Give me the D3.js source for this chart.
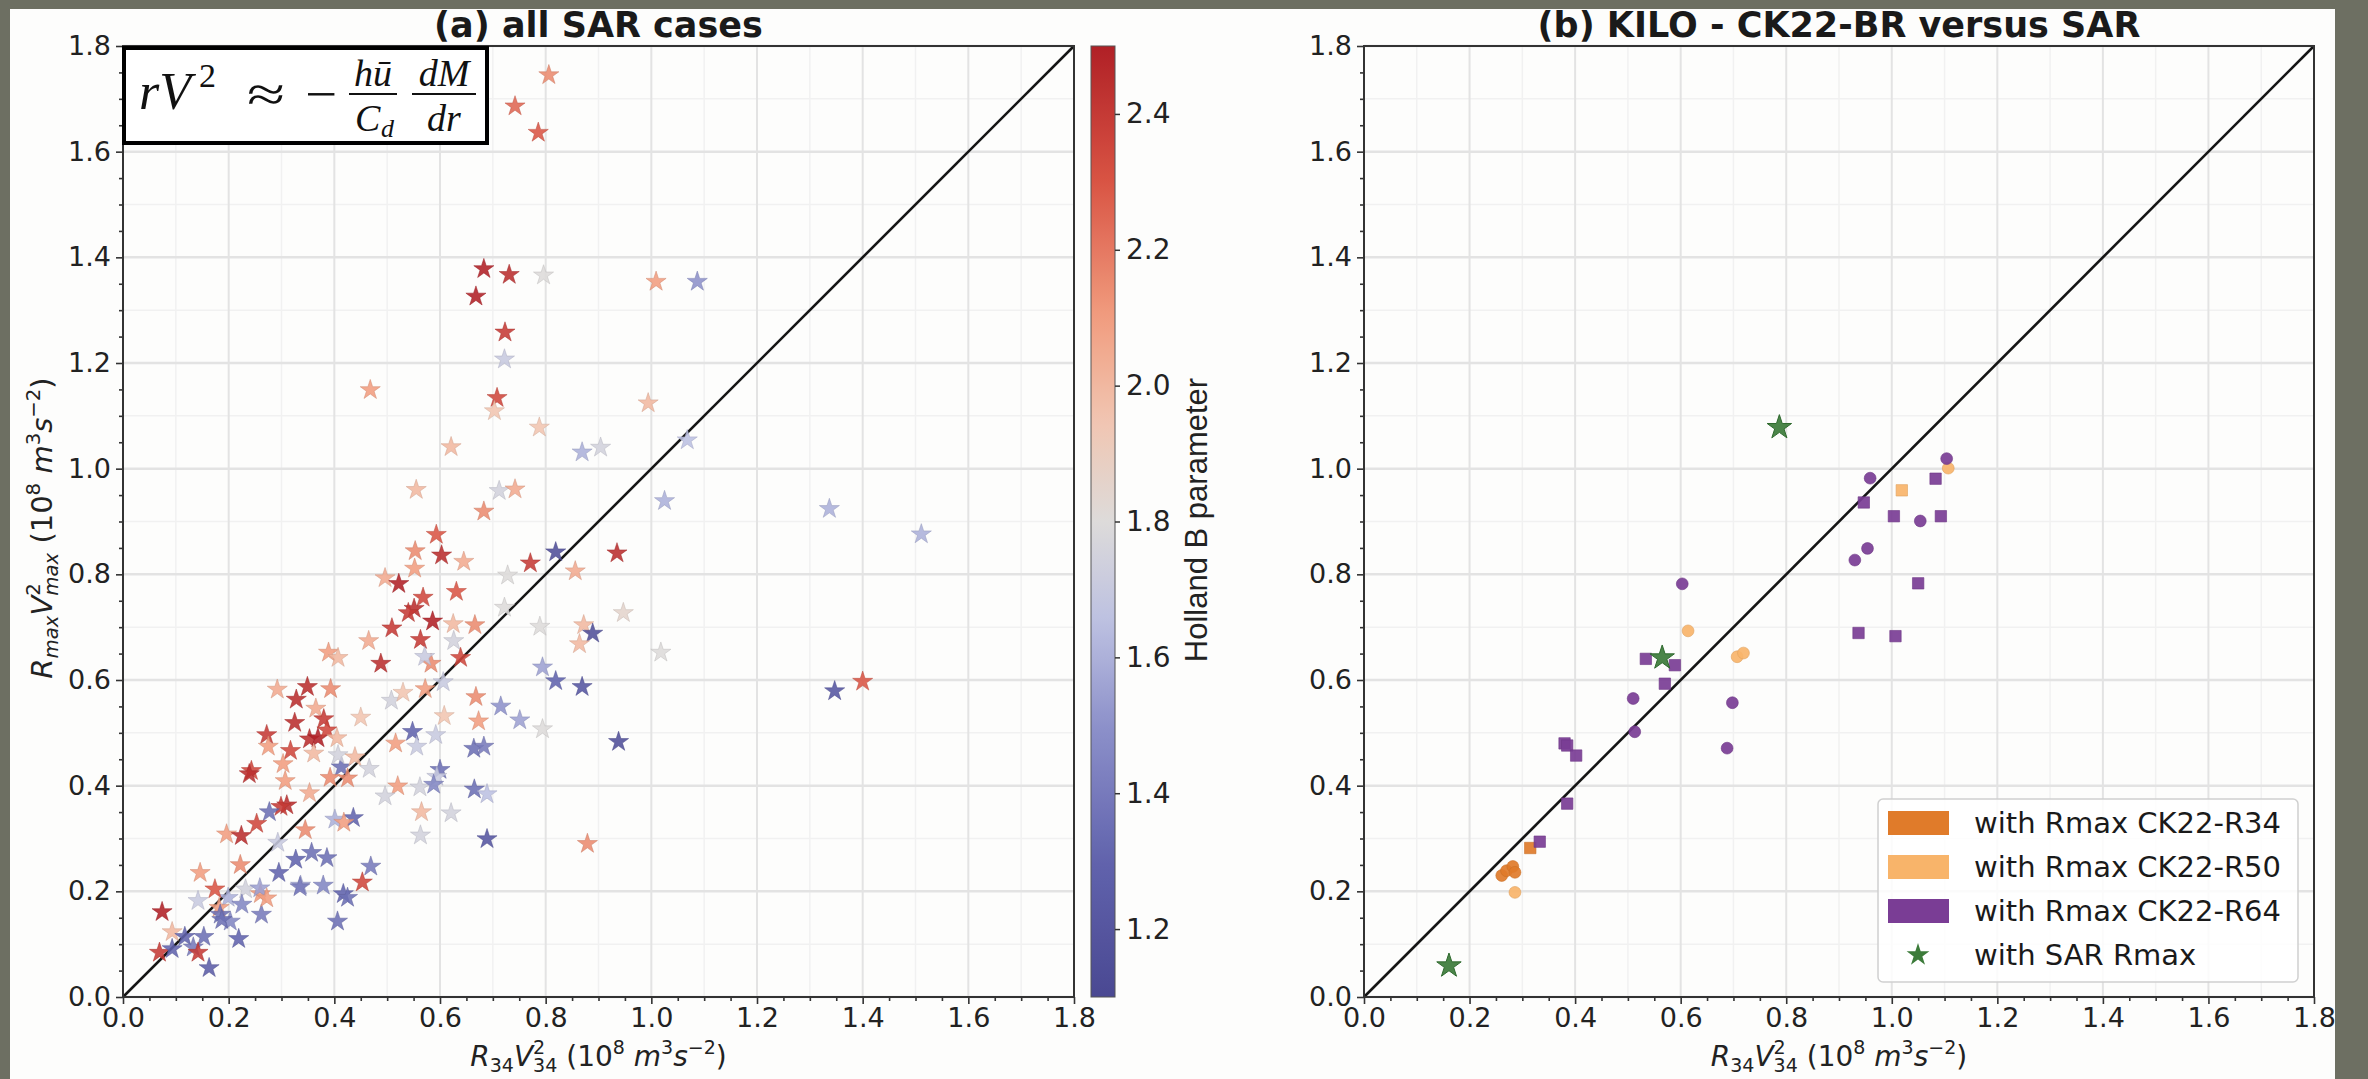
<!DOCTYPE html>
<html><head><meta charset="utf-8">
<script src="https://cdn.jsdelivr.net/npm/d3@7"></script>
<style>html,body{margin:0;padding:0;background:#6d6f62;} svg{display:block} text{white-space:pre}</style>
</head><body>
<svg id="chart" width="2368" height="1079"></svg>
<script>
// ---------- DATA ----------
const axisTicks = [0, 0.2, 0.4, 0.6, 0.8, 1.0, 1.2, 1.4, 1.6, 1.8];
const cbarTicks = [1.2, 1.4, 1.6, 1.8, 2.0, 2.2, 2.4];
const titleA = "(a) all SAR cases";
const titleB = "(b) KILO - CK22-BR versus SAR";
const cbarLabel = "Holland B parameter";
const legendLabels = ["with Rmax CK22-R34", "with Rmax CK22-R50", "with Rmax CK22-R64", "with SAR Rmax"];

// panel (a): all SAR cases  (x = R34 V34^2, y = Rmax Vmax^2, colour = Holland B)
const sarR34V34 = [0.806,0.742,0.786,0.683,0.731,0.796,0.668,1.009,1.087,0.723,0.722,0.468,0.708,0.703,0.994,0.788,0.621,0.869,0.904,1.068,0.555,0.712,0.742,0.683,1.025,1.337,1.511,0.593,
0.553,0.603,0.645,0.819,0.935,0.771,0.856,0.728,0.496,0.522,0.552,0.631,0.568,0.551,0.540,0.722,0.947,0.509,0.586,0.625,0.626,0.666,0.789,0.872,0.889,0.864,0.563,0.465,1.018,0.389,0.407,0.639,0.583,0.571,0.488,0.794,0.819,0.869,1.347,1.400,0.606,0.572,0.349,0.393,0.292,0.328,0.365,0.668,0.508,0.530,0.715,0.751,0.673,0.608,0.794,0.548,0.592,0.450,0.325,0.380,0.272,0.275,0.353,0.369,0.386,0.405,0.516,0.556,0.664,0.683,0.938,0.317,0.361,0.413,0.407,0.439,0.243,0.239,0.303,0.466,0.392,0.425,0.600,0.594,0.520,0.562,0.588,0.665,0.689,0.496,0.307,0.353,0.310,0.299,0.277,0.253,0.196,0.224,0.293,0.345,0.401,0.436,0.418,0.565,0.621,0.563,0.689,0.879,0.327,0.357,0.386,0.295,0.469,0.453,0.222,0.146,0.336,0.379,0.417,0.425,0.406,0.260,0.232,0.199,0.225,0.182,0.174,0.219,0.262,0.142,0.184,0.203,0.074,0.093,0.117,0.153,0.133,0.142,0.069,0.093,0.163,0.259,0.272,0.335,0.187];
const sarRmaxVmax = [1.745,1.686,1.636,1.378,1.367,1.366,1.326,1.354,1.354,1.258,1.207,1.149,1.134,1.109,1.124,1.078,1.041,1.031,1.040,1.054,0.960,0.958,0.961,0.919,0.939,0.924,0.876,0.875,
0.844,0.836,0.824,0.842,0.840,0.821,0.806,0.798,0.793,0.782,0.811,0.767,0.756,0.735,0.727,0.737,0.727,0.698,0.711,0.706,0.674,0.704,0.701,0.704,0.688,0.668,0.676,0.674,0.652,0.652,0.642,0.642,0.631,0.644,0.631,0.624,0.598,0.587,0.579,0.597,0.596,0.583,0.587,0.583,0.582,0.563,0.546,0.568,0.561,0.576,0.550,0.524,0.522,0.532,0.507,0.502,0.496,0.529,0.519,0.526,0.496,0.474,0.488,0.490,0.505,0.490,0.480,0.474,0.470,0.474,0.483,0.466,0.461,0.435,0.458,0.454,0.428,0.422,0.441,0.432,0.415,0.414,0.430,0.417,0.399,0.397,0.402,0.393,0.384,0.380,0.409,0.386,0.363,0.360,0.350,0.328,0.308,0.305,0.292,0.316,0.336,0.339,0.330,0.350,0.348,0.306,0.299,0.290,0.260,0.273,0.263,0.235,0.247,0.217,0.250,0.235,0.211,0.211,0.195,0.188,0.143,0.195,0.204,0.188,0.175,0.169,0.204,0.110,0.156,0.182,0.156,0.143,0.161,0.123,0.114,0.114,0.094,0.084,0.084,0.091,0.055,0.206,0.187,0.208,0.146];
const sarHollandB = [2.15,2.25,2.3,2.5,2.45,1.8,2.5,2.1,1.5,2.4,1.7,2.1,2.35,1.95,2.0,1.95,2.0,1.6,1.75,1.65,2.0,1.75,2.05,2.15,1.6,1.6,1.6,2.3,
2.15,2.45,2.05,1.15,2.45,2.4,2.05,1.8,2.05,2.5,2.1,2.3,2.35,2.45,2.4,1.8,1.85,2.4,2.5,2.0,1.75,2.15,1.8,2.0,1.15,2.0,2.4,2.05,1.8,2.1,2.0,2.35,2.15,1.7,2.45,1.55,1.3,1.2,1.2,2.3,1.7,2.1,2.45,2.15,2.05,2.45,2.05,2.15,1.75,1.95,1.5,1.55,2.1,1.95,1.8,1.3,1.7,1.95,2.45,2.4,2.4,2.1,2.45,2.5,2.35,2.0,2.1,1.7,1.35,1.4,1.15,2.35,2.0,1.35,1.75,2.0,2.35,2.45,2.1,1.75,2.15,2.15,1.35,1.7,2.1,1.75,1.45,1.35,1.65,1.75,2.1,2.05,2.45,2.4,1.35,2.35,2.1,2.45,1.7,2.15,1.6,1.3,2.1,2.0,1.75,1.75,1.2,2.15,1.3,1.35,1.35,1.3,1.4,2.35,2.15,2.1,1.55,1.45,1.3,1.35,1.35,2.1,1.75,1.6,1.45,2.1,2.3,1.3,1.4,1.7,1.35,1.45,2.5,2.0,1.3,1.35,1.4,2.4,2.4,1.3,1.25,1.55,2.1,1.4,1.35];

// panel (b): KILO
const ck34X = [0.315,0.261,0.270,0.282,0.286];
const ck34Y = [0.282,0.230,0.239,0.247,0.236];
const ck34Shape = ["square","circle","circle","circle","circle"];
const ck50X = [0.286,0.614,0.707,0.719,1.019,1.107];
const ck50Y = [0.198,0.693,0.644,0.651,0.959,1.001];
const ck50Shape = ["circle","circle","circle","circle","square","circle"];
const ck64X = [0.603,0.534,0.589,0.570,0.510,0.698,0.513,0.688,0.380,0.385,0.402,0.385,0.333,1.104,0.959,1.083,0.947,1.004,1.054,1.093,0.930,0.954,1.050,0.937,1.007];
const ck64Y = [0.782,0.640,0.628,0.593,0.565,0.557,0.502,0.471,0.480,0.476,0.457,0.366,0.294,1.019,0.982,0.981,0.936,0.910,0.901,0.910,0.827,0.849,0.783,0.689,0.683];
const ck64Shape = ["circle","square","square","square","circle","circle","circle","circle","square","square","square","square","square","circle","circle","square","square","square","circle","square","circle","circle","square","square","square"];
const sarRmaxX = [0.787,0.565,0.161];
const sarRmaxY = [1.078,0.642,0.059];

// ---------- STYLE ----------
const C34 = "#e07b2a", C50 = "#f8b46a", C64 = "#7a3d95", CSAR = "#3c7b3a";
const FONT = "DejaVu Sans";
const svg = d3.select("#chart");
svg.append("rect").attr("width", 2368).attr("height", 1079).attr("fill", "#6d6f62");
svg.append("rect").attr("x", 10).attr("y", 9).attr("width", 2325).attr("height", 1075).attr("fill", "#fdfdfc");

const y = d3.scaleLinear().domain([0, 1.8]).range([997, 46]);
const xA = d3.scaleLinear().domain([0, 1.8]).range([123, 1074]);
const xB = d3.scaleLinear().domain([0, 1.8]).range([1364, 2314]);
const minorTicks = d3.range(0, 1.8001, 0.05).map(v => +v.toFixed(2)).filter(v => Math.abs(v*5 - Math.round(v*5)) > 1e-6);
const gridMinor = d3.range(0.1, 1.8, 0.2).map(v => +v.toFixed(2));

const cmap = d3.scaleLinear()
  .domain([1.1, 1.3, 1.5, 1.65, 1.8, 1.95, 2.1, 2.3, 2.5])
  .range(["#4a4892", "#6163ad", "#8d91ca", "#bcc0e1", "#dddbda", "#f1c5b1", "#f19d7f", "#d95444", "#b02026"])
  .clamp(true);

function drawPanel(x, title) {
  const g = svg.append("g");
  g.selectAll(".gmx").data(gridMinor).join("line").attr("x1", d => x(d)).attr("x2", d => x(d)).attr("y1", y(0)).attr("y2", y(1.8)).attr("stroke", "#f1f1f1").attr("stroke-width", 1.5);
  g.selectAll(".gmy").data(gridMinor).join("line").attr("y1", d => y(d)).attr("y2", d => y(d)).attr("x1", x(0)).attr("x2", x(1.8)).attr("stroke", "#f1f1f1").attr("stroke-width", 1.5);
  g.selectAll(".gx").data(axisTicks).join("line").attr("x1", d => x(d)).attr("x2", d => x(d)).attr("y1", y(0)).attr("y2", y(1.8)).attr("stroke", "#e3e3e3").attr("stroke-width", 2);
  g.selectAll(".gy").data(axisTicks).join("line").attr("y1", d => y(d)).attr("y2", d => y(d)).attr("x1", x(0)).attr("x2", x(1.8)).attr("stroke", "#e3e3e3").attr("stroke-width", 2.5);
  g.append("line").attr("x1", x(0)).attr("y1", y(0)).attr("x2", x(1.8)).attr("y2", y(1.8)).attr("stroke", "#151515").attr("stroke-width", 2.6);
  svg.append("text").attr("x", (x(0) + x(1.8)) / 2).attr("y", 37).attr("text-anchor", "middle")
    .attr("font-family", FONT).attr("font-weight", "bold").attr("font-size", 35).attr("fill", "#1a1a1a").text(title);
  return g;
}

function drawAxes(x) {
  const ax = svg.append("g");
  ax.append("g").attr("transform", `translate(0,${y(0)})`)
    .call(d3.axisBottom(x).tickValues(axisTicks).tickSize(7).tickPadding(4).tickFormat(d3.format(".1f")));
  ax.append("g").attr("transform", `translate(0,${y(0)})`)
    .call(d3.axisBottom(x).tickValues(minorTicks).tickSize(4).tickFormat(""));
  ax.append("g").attr("transform", `translate(${x(0)},0)`)
    .call(d3.axisLeft(y).tickValues(axisTicks).tickSize(7).tickPadding(5).tickFormat(d3.format(".1f")));
  ax.append("g").attr("transform", `translate(${x(0)},0)`)
    .call(d3.axisLeft(y).tickValues(minorTicks).tickSize(4).tickFormat(""));
  ax.selectAll(".domain").remove();
  ax.selectAll(".tick line").attr("stroke", "#333").attr("stroke-width", 1.6);
  ax.selectAll(".tick text").attr("font-family", FONT).attr("font-size", 27).attr("fill", "#222");
  ax.append("rect").attr("x", x(0)).attr("y", y(1.8)).attr("width", x(1.8) - x(0)).attr("height", y(0) - y(1.8))
    .attr("fill", "none").attr("stroke", "#333").attr("stroke-width", 2);
}

function mathText(x0, y0, parts, size, rotate) {
  const t = svg.append("text").attr("font-family", FONT).attr("font-size", size).attr("fill", "#222")
    .attr("text-anchor", "middle")
    .attr("transform", `translate(${x0},${y0})` + (rotate ? " rotate(-90)" : ""));
  let cur = 0, lastW = 0;
  parts.forEach(p => {
    const small = p.pos !== "base";
    const fs = small ? size * 0.68 : size;
    const target = p.pos === "sup" ? -0.42 * size : (p.pos === "sub" || p.pos === "subStack") ? 0.2 * size : 0;
    const ts = t.append("tspan").text(p.t).attr("font-size", fs).attr("font-style", p.it ? "italic" : "normal").attr("dy", target - cur);
    if (p.pos === "subStack") ts.attr("dx", -lastW);
    cur = target;
    lastW = ts.node().getComputedTextLength();
  });
}
const unitParts = [
  { t: " (10", pos: "base" }, { t: "8", pos: "sup" }, { t: " ", pos: "base" }, { t: "m", pos: "base", it: true },
  { t: "3", pos: "sup" }, { t: "s", pos: "base", it: true }, { t: "−2", pos: "sup" }, { t: ")", pos: "base" }];
const xLabelParts = [{ t: "R", pos: "base", it: true }, { t: "34", pos: "sub" }, { t: "V", pos: "base", it: true },
  { t: "2", pos: "sup" }, { t: "34", pos: "subStack" }].concat(unitParts);
const yLabelParts = [{ t: "R", pos: "base", it: true }, { t: "max", pos: "sub", it: true }, { t: "V", pos: "base", it: true },
  { t: "2", pos: "sup" }, { t: "max", pos: "subStack", it: true }].concat(unitParts);

// ---------- PANEL A ----------
const gA = drawPanel(xA, titleA);
const starA = d3.symbol().type(d3.symbolStar).size(125);
const idxA = d3.range(sarR34V34.length);
gA.selectAll(".star").data(idxA).join("path")
  .attr("d", starA)
  .attr("transform", i => `translate(${xA(sarR34V34[i])},${y(sarRmaxVmax[i])})`)
  .attr("fill", i => cmap(sarHollandB[i]))
  .attr("fill-opacity", 0.88)
  .attr("stroke", i => d3.color(cmap(sarHollandB[i])).darker(0.4))
  .attr("stroke-opacity", 0.5)
  .attr("stroke-width", 1);
drawAxes(xA);
mathText(xA(0.9), 1066, xLabelParts, 28, false);
mathText(52, 528, yLabelParts, 29, true);

// equation box
svg.append("rect").attr("x", 124).attr("y", 48).attr("width", 363).attr("height", 95)
  .attr("fill", "#fff").attr("stroke", "#000").attr("stroke-width", 4);
const eqF = "Liberation Serif";
const eq = svg.append("g").attr("font-family", eqF).attr("fill", "#111");
eq.append("text").attr("x", 139).attr("y", 109).attr("font-size", 52).attr("font-style", "italic").text("rV");
eq.append("text").attr("x", 199).attr("y", 87).attr("font-size", 34).text("2");
eq.append("text").attr("x", 247).attr("y", 111).attr("font-size", 50).attr("textLength", 38).attr("lengthAdjust", "spacingAndGlyphs").text("≈");
eq.append("text").attr("x", 305).attr("y", 111).attr("font-size", 50).attr("textLength", 32).attr("lengthAdjust", "spacingAndGlyphs").text("−");
eq.append("text").attr("x", 373).attr("y", 86).attr("font-size", 38).attr("font-style", "italic").attr("text-anchor", "middle").text("hū");
eq.append("line").attr("x1", 349).attr("x2", 397).attr("y1", 94).attr("y2", 94).attr("stroke", "#111").attr("stroke-width", 2);
eq.append("text").attr("x", 355).attr("y", 131).attr("font-size", 38).attr("font-style", "italic").text("C");
eq.append("text").attr("x", 381).attr("y", 137).attr("font-size", 26).attr("font-style", "italic").text("d");
eq.append("text").attr("x", 444).attr("y", 86).attr("font-size", 38).attr("font-style", "italic").attr("text-anchor", "middle").text("dM");
eq.append("line").attr("x1", 412).attr("x2", 476).attr("y1", 94).attr("y2", 94).attr("stroke", "#111").attr("stroke-width", 2);
eq.append("text").attr("x", 444).attr("y", 131).attr("font-size", 38).attr("font-style", "italic").attr("text-anchor", "middle").text("dr");

// colorbar
const cbY = d3.scaleLinear().domain([1.1, 2.5]).range([997, 46]);
const defs = svg.append("defs");
const grad = defs.append("linearGradient").attr("id", "cbg").attr("x1", 0).attr("x2", 0).attr("y1", 1).attr("y2", 0);
d3.range(0, 1.0001, 0.02).forEach(t => {
  grad.append("stop").attr("offset", t).attr("stop-color", cmap(1.1 + t * 1.4));
});
svg.append("rect").attr("x", 1091).attr("y", 46).attr("width", 24).attr("height", 951)
  .attr("fill", "url(#cbg)").attr("stroke", "#555").attr("stroke-width", 1);
const cbAx = svg.append("g").attr("transform", "translate(1115,0)")
  .call(d3.axisRight(cbY).tickValues(cbarTicks).tickSize(5).tickPadding(6).tickFormat(d3.format(".1f")));
cbAx.select(".domain").remove();
cbAx.selectAll(".tick line").attr("stroke", "#333").attr("stroke-width", 1.5);
cbAx.selectAll(".tick text").attr("font-family", FONT).attr("font-size", 28).attr("fill", "#222");
svg.append("text").attr("transform", "translate(1207,520) rotate(-90)").attr("text-anchor", "middle")
  .attr("font-family", "Liberation Sans").attr("font-size", 31).attr("fill", "#222").text(cbarLabel);

// ---------- PANEL B ----------
const gB = drawPanel(xB, titleB);
function drawSeries(X, Y, S, color) {
  const idx = d3.range(X.length);
  gB.selectAll(null).data(idx).join("path")
    .attr("d", i => d3.symbol().type(S[i] === "square" ? d3.symbolSquare : d3.symbolCircle).size(S[i] === "square" ? 130 : 110)())
    .attr("transform", i => `translate(${xB(X[i])},${y(Y[i])})`)
    .attr("fill", color).attr("fill-opacity", 0.92)
    .attr("stroke", d3.color(color).darker(0.3)).attr("stroke-width", 1).attr("stroke-opacity", 0.6);
}
drawSeries(ck34X, ck34Y, ck34Shape, C34);
drawSeries(ck50X, ck50Y, ck50Shape, C50);
drawSeries(ck64X, ck64Y, ck64Shape, C64);
gB.selectAll(null).data(d3.range(sarRmaxX.length)).join("path")
  .attr("d", d3.symbol().type(d3.symbolStar).size(185))
  .attr("transform", i => `translate(${xB(sarRmaxX[i])},${y(sarRmaxY[i])})`)
  .attr("fill", CSAR).attr("fill-opacity", 0.92).attr("stroke", "#2f6a2e").attr("stroke-width", 1);
drawAxes(xB);
mathText(xB(0.9), 1066, xLabelParts, 28, false);

// legend
const lg = svg.append("g");
lg.append("rect").attr("x", 1878).attr("y", 799).attr("width", 420).attr("height", 183).attr("rx", 5)
  .attr("fill", "#fff").attr("fill-opacity", 0.85).attr("stroke", "#d0d0d0").attr("stroke-width", 1.5);
const legColors = [C34, C50, C64, CSAR];
const legY = [823, 867, 911, 955];
legendLabels.forEach((lab, i) => {
  if (i < 3) {
    lg.append("rect").attr("x", 1888).attr("y", legY[i] - 12).attr("width", 61).attr("height", 24).attr("fill", legColors[i]);
  } else {
    lg.append("path").attr("d", d3.symbol().type(d3.symbolStar).size(160)).attr("transform", `translate(1918,${legY[i]})`)
      .attr("fill", CSAR);
  }
  lg.append("text").attr("x", 1974).attr("y", legY[i]).attr("dy", "0.35em").attr("font-family", FONT)
    .attr("font-size", 29).attr("fill", "#1a1a1a").text(lab);
});
</script>
</body></html>
